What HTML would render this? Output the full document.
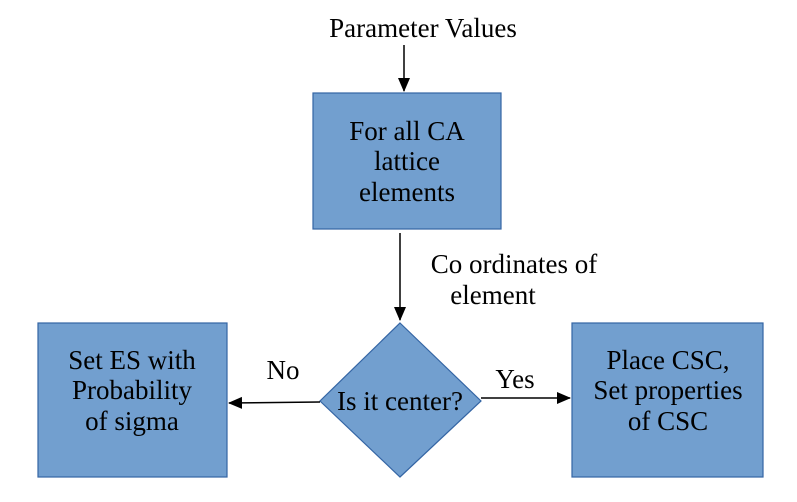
<!DOCTYPE html>
<html><head><style>body{margin:0;background:#fff} text{font-family:"Liberation Serif","DejaVu Serif",serif;font-size:27px}</style></head><body>
<svg width="797" height="502" xmlns="http://www.w3.org/2000/svg" style="display:block">
<defs><marker id="b" markerWidth="14" markerHeight="14" refX="13" refY="7" orient="auto" markerUnits="userSpaceOnUse"><path d="M0,1 L14,7 L0,13 z" fill="#000"/></marker></defs>
<g fill="#000" text-anchor="middle">
<text x="423" y="37">Parameter Values</text>
<line x1="404" y1="45" x2="404" y2="91" stroke="#000" stroke-width="1.5" marker-end="url(#b)"/>
<rect x="313" y="93" width="188" height="136" fill="#729fcf" stroke="#3465a4" stroke-width="1.2"/>
<text x="407" y="140">For all CA</text><text x="407" y="170">lattice</text><text x="407" y="201">elements</text>
<line x1="400" y1="233" x2="400" y2="320" stroke="#000" stroke-width="1.5" marker-end="url(#b)"/>
<text x="514" y="273">Co ordinates of</text><text x="493" y="304">element</text>
<polygon points="400,323 481,401 400,477 320,401" fill="#729fcf" stroke="#3465a4" stroke-width="1.2"/>
<text x="400" y="410">Is it center?</text>
<rect x="38" y="323" width="189" height="154" fill="#729fcf" stroke="#3465a4" stroke-width="1.2"/>
<text x="132" y="369">Set ES with</text><text x="132" y="399">Probability</text><text x="132" y="430">of sigma</text>
<rect x="572" y="323" width="191" height="154" fill="#729fcf" stroke="#3465a4" stroke-width="1.2"/>
<text x="668" y="369">Place CSC,</text><text x="668" y="399">Set properties</text><text x="668" y="430">of CSC</text>
<line x1="320" y1="402" x2="229" y2="403" stroke="#000" stroke-width="1.5" marker-end="url(#b)"/>
<line x1="481" y1="398" x2="570" y2="398" stroke="#000" stroke-width="1.5" marker-end="url(#b)"/>
<text x="283" y="379">No</text>
<text x="515" y="388">Yes</text>
</g>
</svg>
</body></html>
